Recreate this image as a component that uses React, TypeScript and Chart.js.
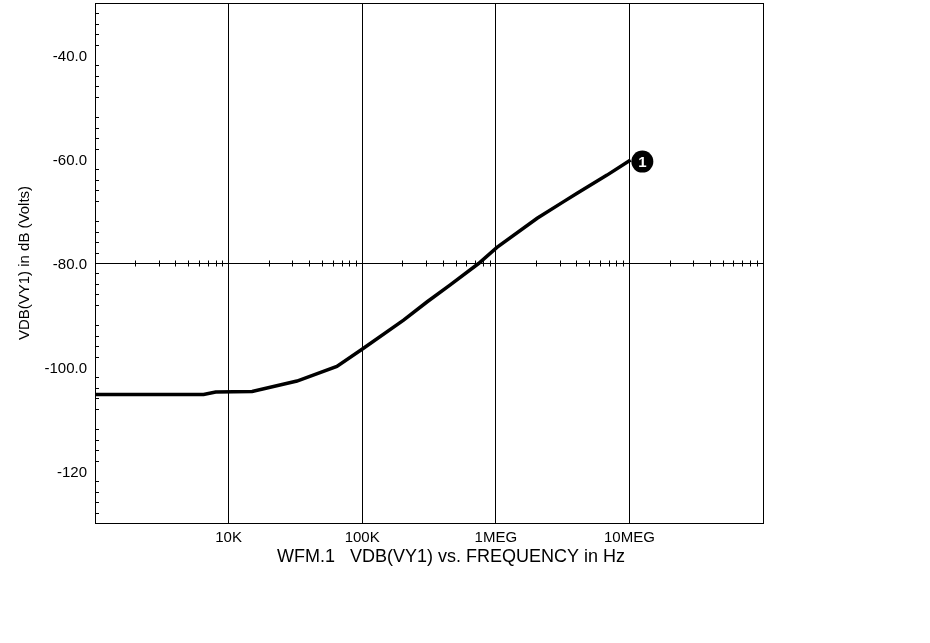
import React, { useEffect, useRef } from 'react';
import { Chart, registerables } from 'chart.js';

Chart.register(...registerables);

// ---- data ----
const frequencies = [1e3, 6.5e3, 8e3, 1.5e4, 3.25e4, 6.46e4, 1.01e5, 2.04e5, 3.05e5, 4.56e5, 7.43e5, 1.02e6, 2.04e6, 3.22e6, 4.06e6, 6.8e6, 1.02e7];
const vdbValues = [-105.3, -105.3, -104.8, -104.7, -102.7, -99.9, -96.5, -91.0, -87.5, -84.2, -80.1, -77.0, -71.4, -68.2, -66.6, -63.1, -60.2];
const markerFrequency = [1.25e7];
const markerValue = [-60.5];
const markerLabel = '1';

const xTickValues = [1e4, 1e5, 1e6, 1e7];
const xTickLabels = ['10K', '100K', '1MEG', '10MEG'];
const yTickValues = [-120, -100, -80, -60, -40];
const yTickLabels = ['-120', '-100.0', '-80.0', '-60.0', '-40.0'];
const xRange = [1e3, 1e8];
const yRange = [-130, -30];
const yReferenceLine = -80;

const chartTitle = 'WFM.1   VDB(VY1) vs. FREQUENCY in Hz';
const yAxisTitle = 'VDB(VY1) in dB (Volts)';

const FONT = '"Liberation Sans", Arial, sans-serif';

const framePlugin = {
  id: 'frame',
  beforeDatasetsDraw(chart: any) {
    const { ctx, chartArea, scales } = chart;
    const { left, top, right, bottom } = chartArea;
    const x = scales.x;
    const y = scales.y;
    ctx.save();
    ctx.strokeStyle = '#000';
    ctx.lineWidth = 1;
    ctx.strokeRect(left + 0.5, top + 0.5, right - left, bottom - top);
    ctx.beginPath();
    // minor ticks on left axis
    for (let v = yRange[0] + 2; v < yRange[1]; v += 2) {
      if (v % 10 === 0) continue;
      const py = Math.round(y.getPixelForValue(v)) + 0.5;
      ctx.moveTo(left, py);
      ctx.lineTo(left + 4, py);
    }
    // log minor ticks on the reference line
    const ry = Math.round(y.getPixelForValue(yReferenceLine)) + 0.5;
    for (let d = 3; d < 8; d++) {
      for (let m = 2; m <= 9; m++) {
        const px = Math.round(x.getPixelForValue(m * Math.pow(10, d))) + 0.5;
        ctx.moveTo(px, ry - 3);
        ctx.lineTo(px, ry + 3);
      }
    }
    ctx.stroke();
    ctx.restore();
  },
  afterDatasetsDraw(chart: any) {
    const { ctx } = chart;
    const meta = chart.getDatasetMeta(1);
    const pt = meta.data[0];
    if (pt) {
      ctx.save();
      ctx.fillStyle = '#fff';
      ctx.font = `bold 15px ${FONT}`;
      ctx.textAlign = 'center';
      ctx.textBaseline = 'middle';
      ctx.fillText(markerLabel, pt.x, pt.y + 1);
      ctx.restore();
    }
  },
  afterDraw(chart: any) {
    const { ctx } = chart;
    ctx.save();
    ctx.fillStyle = '#000';
    ctx.font = `18px ${FONT}`;
    ctx.textAlign = 'center';
    ctx.textBaseline = 'middle';
    ctx.fillText(chartTitle, 451, 557);
    ctx.restore();
  },
};

export default function App() {
  const canvasRef = useRef<HTMLCanvasElement | null>(null);

  useEffect(() => {
    if (!canvasRef.current) return;
    const chart = new Chart(canvasRef.current, {
      type: 'scatter',
      data: {
        datasets: [
          {
            data: frequencies.map((f, i) => ({ x: f, y: vdbValues[i] })),
            showLine: true,
            borderColor: '#000',
            borderWidth: 3.5,
            pointRadius: 0,
            tension: 0,
            fill: false,
          },
          {
            data: markerFrequency.map((f, i) => ({ x: f, y: markerValue[i] })),
            showLine: false,
            pointRadius: 11,
            pointBackgroundColor: '#000',
            pointBorderWidth: 0,
            borderColor: '#000',
          },
        ],
      },
      options: {
        animation: false,
        responsive: false,
        events: [],
        layout: { autoPadding: false, padding: { left: 0, top: 3, right: 167, bottom: 0 } },
        plugins: {
          legend: { display: false },
          tooltip: { enabled: false },
          title: { display: false },
        },
        scales: {
          x: {
            type: 'logarithmic',
            min: xRange[0],
            max: xRange[1],
            afterBuildTicks: (scale: any) => {
              scale.ticks = xTickValues.map((v) => ({ value: v }));
            },
            afterFit: (scale: any) => {
              scale.height = 120;
              scale.paddingLeft = 0;
              scale.paddingRight = 0;
              if (scale._margins) {
                scale._margins.left = 0;
                scale._margins.right = 0;
              }
            },
            ticks: {
              autoSkip: false,
              maxRotation: 0,
              color: '#000',
              padding: 6,
              font: { family: FONT, size: 15 },
              callback: (_v: any, i: number) => xTickLabels[i],
            },
            grid: { color: '#000', lineWidth: 1, drawTicks: false },
            border: { display: true, color: '#000', width: 1 },
          },
          y: {
            type: 'linear',
            min: yRange[0],
            max: yRange[1],
            afterBuildTicks: (scale: any) => {
              scale.ticks = yTickValues.map((v) => ({ value: v }));
            },
            afterFit: (scale: any) => {
              scale.width = 95;
              scale.paddingTop = 0;
              scale.paddingBottom = 0;
              if (scale._margins) {
                scale._margins.top = 0;
                scale._margins.bottom = 0;
              }
            },
            ticks: {
              autoSkip: false,
              color: '#000',
              padding: 8,
              labelOffset: 2,
              font: { family: FONT, size: 15 },
              callback: (_v: any, i: number) => yTickLabels[i],
            },
            grid: {
              color: (c: any) => (c.tick && c.tick.value === yReferenceLine ? '#000' : 'rgba(0,0,0,0)'),
              lineWidth: 1,
              drawTicks: false,
            },
            border: { display: true, color: '#000', width: 1 },
            title: {
              display: true,
              text: yAxisTitle,
              color: '#000',
              font: { family: FONT, size: 15 },
              padding: { top: 16, bottom: 0 },
            },
          },
        },
      },
      plugins: [framePlugin],
    } as any);
    return () => chart.destroy();
  }, []);

  return (
    <div style={{ position: 'absolute', left: 0, top: 0, width: 930, height: 643, background: '#fff' }}>
      <canvas ref={canvasRef} width={930} height={643} style={{ display: 'block' }} />
    </div>
  );
}
